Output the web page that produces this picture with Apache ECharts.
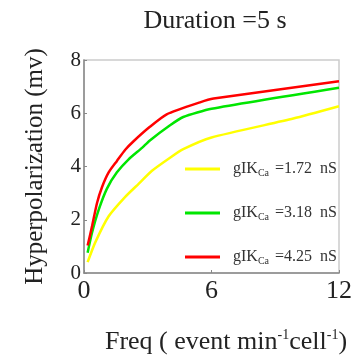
<!DOCTYPE html>
<html>
<head>
<meta charset="utf-8">
<script src="https://cdn.jsdelivr.net/npm/echarts@6/dist/echarts.min.js"></script>
<style>
  html, body { margin: 0; padding: 0; background: #fff; }
  #chart { width: 363px; height: 360px; }
</style>
</head>
<body>
<div id="chart"></div>
<script>
// frequency (event / min / cell) and hyperpolarization (mV) per gIKCa
const freqYellow = [0.17, 0.53, 1.16, 1.94, 2.57, 3.2, 4.05, 4.67, 6.0, 9.85, 12];
const hypYellow  = [0.41, 1.15, 2.13, 2.86, 3.35, 3.84, 4.33, 4.65, 5.09, 5.8, 6.26];
const freqGreen  = [0.17, 0.38, 0.69, 1.08, 1.55, 2.1, 2.73, 3.1, 4.05, 4.67, 6.0, 12];
const hypGreen   = [0.76, 1.52, 2.37, 3.17, 3.78, 4.27, 4.7, 4.98, 5.55, 5.86, 6.17, 6.96];
const freqRed    = [0.17, 0.38, 0.61, 0.85, 1.16, 1.55, 1.94, 2.32, 3.1, 3.89, 5.46, 6.1, 12];
const hypRed     = [1.03, 1.76, 2.62, 3.23, 3.78, 4.21, 4.63, 4.94, 5.49, 5.96, 6.41, 6.55, 7.2];
const seriesNames = ['1.72', '3.18', '4.25'];
const xTicks = [0, 6, 12];
const yTicks = [0, 2, 4, 6, 8];

const serif = '"Liberation Serif", "DejaVu Serif", serif';
const pairs = (xs, ys) => xs.map((x, i) => [x, ys[i]]);

const chart = echarts.init(document.getElementById('chart'));

function lineSeries(name, data, color) {
    return {
        name: name, type: 'line', data: data, symbol: 'none', smooth: 0.2,
        lineStyle: { color: color, width: 2.5 }, itemStyle: { color: color }
    };
}

chart.setOption({
    backgroundColor: '#ffffff',
    animation: false,
    title: {
        text: 'Duration =5 s', left: 210, top: 3, textAlign: 'center',
        textStyle: { fontFamily: serif, fontSize: 26, fontWeight: 'normal', color: '#222' }
    },
    grid: { left: 84, right: 24, top: 60, bottom: 82, show: true, borderColor: '#cccccc', borderWidth: 1.5 },
    legend: {
        orient: 'vertical', left: 180, top: 156, itemGap: 27,
        itemWidth: 35, itemHeight: 3, icon: 'rect',
        data: seriesNames,
        formatter: name => '{a|gIK}{b|Ca}{a| =' + name + '  nS}',
        textStyle: {
            fontFamily: serif, color: '#333', padding: [0, 0, 0, 8],
            rich: {
                a: { fontFamily: serif, fontSize: 16, color: '#333', lineHeight: 18, verticalAlign: 'middle' },
                b: { fontFamily: serif, fontSize: 10, color: '#333', lineHeight: 10, verticalAlign: 'bottom', padding: [0, 2, 0, 0] }
            }
        }
    },
    xAxis: {
        type: 'value', min: 0, max: 12, interval: 6,
        name: '{a|Freq ( event min}{s|-1}{a|cell}{s|-1}{a|)}',
        nameLocation: 'middle', nameGap: 55,
        nameTextStyle: {
            padding: [0, 0, 0, 29],
            rich: {
                a: { fontFamily: serif, fontSize: 26, color: '#222', lineHeight: 28, verticalAlign: 'middle' },
                s: { fontFamily: serif, fontSize: 14, color: '#222', lineHeight: 14, verticalAlign: 'top' }
            }
        },
        axisLine: { show: true, lineStyle: { color: '#888', width: 1.5 } },
        axisTick: { show: true, inside: true, length: 3, lineStyle: { color: '#888' } },
        axisLabel: {
            fontFamily: serif, fontSize: 26, color: '#222', margin: 5,
            formatter: v => xTicks.includes(v) ? String(v) : ''
        },
        splitLine: { show: false }
    },
    yAxis: {
        type: 'value', min: 0, max: 8, interval: 2,
        name: 'Hyperpolarization (mv)',
        nameLocation: 'middle', nameGap: 36,
        nameTextStyle: { fontFamily: serif, fontSize: 25, color: '#222' },
        axisLine: { show: true, lineStyle: { color: '#888', width: 1.5 } },
        axisTick: { show: true, inside: true, length: 3, lineStyle: { color: '#888' } },
        axisLabel: {
            fontFamily: serif, fontSize: 21, color: '#222', margin: 3,
            formatter: v => yTicks.includes(v) ? String(v) : ''
        },
        splitLine: { show: false }
    },
    series: [
        lineSeries(seriesNames[0], pairs(freqYellow, hypYellow), '#ffff00'),
        lineSeries(seriesNames[1], pairs(freqGreen, hypGreen), '#00e600'),
        lineSeries(seriesNames[2], pairs(freqRed, hypRed), '#ff0000')
    ]
});
</script>
</body>
</html>
